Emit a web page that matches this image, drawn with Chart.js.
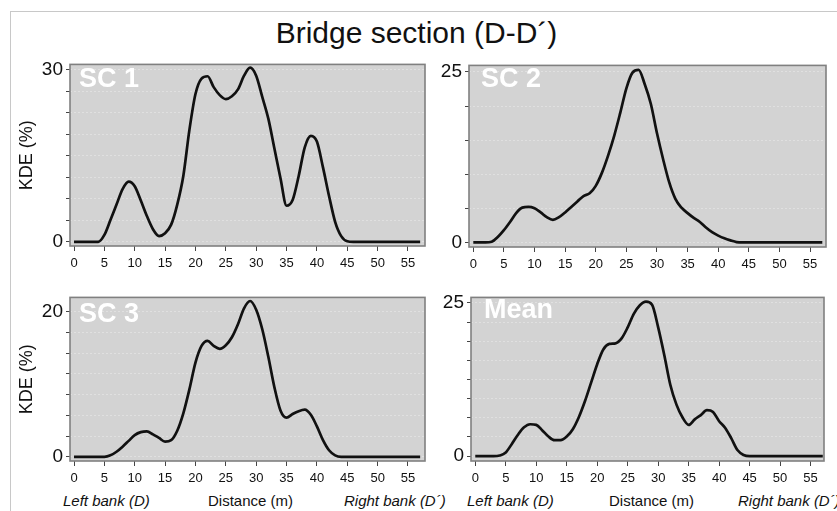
<!DOCTYPE html>
<html>
<head>
<meta charset="utf-8">
<script src="https://cdn.jsdelivr.net/npm/chart.js@4.4.0/dist/chart.umd.min.js"></script>
<style>
  body { margin: 0; width: 837px; height: 511px; overflow: hidden; background: #fff; position: relative;
         font-family: "Liberation Sans", Arial, sans-serif; color: #111; }
  #moldura { position: absolute; left: 10px; top: 11px; width: 900px; height: 600px; border: 1px solid #c8c8c8; }
  #titulo { position: absolute; left: 0; width: 833px; top: 18px; text-align: center; font-size: 30px; line-height: 30px; }
  canvas { position: absolute; }
  .rotulo { position: absolute; color: #fff; font-weight: bold; font-size: 27px; line-height: 27px; }
  .margem { position: absolute; top: 493px; font-size: 15px; line-height: 15px; white-space: nowrap; }
  .margem.it { font-style: italic; }
</style>
</head>
<body>
<div id="moldura"></div>
<div id="titulo">Bridge section (D-D´)</div>

<canvas id="sc1"></canvas>
<canvas id="sc2"></canvas>
<canvas id="sc3"></canvas>
<canvas id="media"></canvas>

<div class="rotulo" style="left:79px; top:65px">SC 1</div>
<div class="rotulo" style="left:481px; top:65px">SC 2</div>
<div class="rotulo" style="left:79px; top:300px">SC 3</div>
<div class="rotulo" style="left:484px; top:296px">Mean</div>

<div class="margem it" style="left:63px">Left bank (D)</div>
<div class="margem" style="left:208px">Distance (m)</div>
<div class="margem it" style="left:344px">Right bank (D´)</div>
<div class="margem it" style="left:467px">Left bank (D)</div>
<div class="margem" style="left:609px">Distance (m)</div>
<div class="margem it" style="left:738px">Right bank (D´)</div>

<script>
// --=| Dados (distância em m, KDE em %)
const distancia = [0, 1, 2, 3, 4, 5, 6, 7, 8, 9, 10, 11, 12, 13, 14, 15, 16, 17, 18, 19,
  20, 21, 22, 23, 24, 25, 26, 27, 28, 29, 30, 31, 32, 33, 34, 35, 36, 37, 38, 39,
  40, 41, 42, 43, 44, 45, 46, 47, 48, 49, 50, 51, 52, 53, 54, 55, 56, 57];

const sc1 = [0, 0, 0, 0, 0, 1.2, 3.8, 6.5, 9.2, 10.5, 9.7, 7.2, 4.5, 2.2, 1.0, 1.5, 3.0, 6.5, 11.5, 19.5,
  25.8, 28.5, 28.9, 27.0, 25.6, 24.9, 25.4, 26.6, 29.0, 30.4, 29.0, 25.3, 21.5, 16.3, 11.1, 6.3, 7.3, 11.5, 16.5, 18.5,
  17.5, 13.0, 8.0, 3.5, 1.0, 0.1, 0, 0, 0, 0, 0, 0, 0, 0, 0, 0, 0, 0];

const sc2 = [0, 0, 0, 0.1, 0.8, 1.8, 3.0, 4.3, 5.1, 5.2, 5.0, 4.4, 3.7, 3.3, 3.7, 4.4, 5.2, 6.0, 6.8, 7.2,
  8.3, 10.2, 12.7, 15.6, 19.0, 22.6, 24.9, 25.3, 23.2, 20.3, 16.0, 12.2, 8.8, 6.4, 5.1, 4.3, 3.6, 3.0, 2.2, 1.5,
  1.0, 0.6, 0.3, 0.05, 0, 0, 0, 0, 0, 0, 0, 0, 0, 0, 0, 0, 0, 0];

const sc3 = [0, 0, 0, 0, 0, 0, 0.2, 0.7, 1.4, 2.2, 3.0, 3.4, 3.5, 3.1, 2.6, 2.1, 2.3, 3.6, 6.0, 9.3,
  13.0, 15.3, 16.0, 15.3, 14.9, 15.4, 16.5, 18.3, 20.5, 21.5, 20.3, 17.6, 13.8, 9.6, 6.4, 5.4, 5.9, 6.3, 6.5, 5.8,
  4.2, 2.3, 0.9, 0.2, 0, 0, 0, 0, 0, 0, 0, 0, 0, 0, 0, 0, 0, 0];

const media = [0, 0, 0, 0, 0.1, 0.6, 2.0, 3.5, 4.7, 5.2, 5.1, 4.2, 3.2, 2.6, 2.6, 3.2, 4.4, 6.4, 9.0, 12.0,
  15.0, 17.4, 18.3, 18.4, 19.2, 21.0, 23.2, 24.6, 25.2, 24.7, 21.0, 16.5, 11.6, 8.4, 6.3, 5.1, 6.0, 6.7, 7.5, 7.2,
  5.7, 4.6, 2.9, 1.0, 0.2, 0, 0, 0, 0, 0, 0, 0, 0, 0, 0, 0, 0, 0];

const xTicks = [0, 5, 10, 15, 20, 25, 30, 35, 40, 45, 50, 55];
const yTopo = [30, 25, 20, 25];      // único rótulo além do 0
const yDivisoes = [8, 5, 7, 8];      // marcas menores entre 0 e o topo

// caixa do gráfico: esquerda, topo, direita, base (px)
const paineis = [
  { id: "sc1", dados: sc1, caixa: [70, 60, 425, 246], x: [-0.66, 57.8], y: [-0.73, 30.97], kde: true },
  { id: "sc2", dados: sc2, caixa: [469, 61, 826, 247], x: [-0.7, 57.6], y: [-0.67, 25.96], kde: false },
  { id: "sc3", dados: sc3, caixa: [70, 293, 425, 461], x: [-0.66, 57.8], y: [-0.58, 22.0], kde: true },
  { id: "media", dados: media, caixa: [471, 293, 824, 461], x: [-0.7, 57.2], y: [-0.79, 25.89], kde: false },
];

const EIXO_Y = 60, EIXO_X = 30, PAD_TOPO = 10, PAD_DIR = 5;

const caixaPlugin = {
  id: "caixa",
  beforeDraw(chart) {
    const { ctx, chartArea: a } = chart;
    ctx.save();
    ctx.fillStyle = "#d3d3d3";
    ctx.fillRect(a.left, a.top, a.right - a.left, a.bottom - a.top);
    ctx.restore();
  },
  afterDraw(chart) {
    const { ctx, chartArea: a } = chart;
    ctx.save();
    ctx.strokeStyle = "#808080";
    ctx.lineWidth = 1.6;
    ctx.strokeRect(a.left, a.top, a.right - a.left, a.bottom - a.top);
    ctx.restore();
  },
};

paineis.forEach((p, i) => {
  const [l, t, r, b] = p.caixa;
  const canvas = document.getElementById(p.id);
  canvas.width = r - l + EIXO_Y + PAD_DIR;
  canvas.height = b - t + PAD_TOPO + EIXO_X;
  canvas.style.left = (l - EIXO_Y) + "px";
  canvas.style.top = (t - PAD_TOPO) + "px";

  const topo = yTopo[i];
  const passo = topo / yDivisoes[i];

  new Chart(canvas, {
    type: "line",
    data: {
      datasets: [
        {
          data: distancia.map((d, k) => ({ x: d, y: p.dados[k] })),
          borderColor: "#111",
          borderWidth: 2.7,
          pointRadius: 0,
          cubicInterpolationMode: "monotone",
          fill: false,
        },
      ],
    },
    plugins: [caixaPlugin],
    options: {
      responsive: false,
      animation: false,
      devicePixelRatio: 1,
      layout: { padding: { top: PAD_TOPO, right: PAD_DIR, left: 0, bottom: 0 } },
      scales: {
        x: {
          type: "linear",
          min: p.x[0],
          max: p.x[1],
          afterBuildTicks: (s) => { s.ticks = xTicks.map((v) => ({ value: v })); },
          afterFit: (s) => { s.height = EIXO_X; },
          border: { display: false },
          grid: { drawOnChartArea: false, tickLength: 5, tickColor: "#444", tickWidth: 1 },
          ticks: { color: "#111", font: { family: "Liberation Sans", size: 13 }, padding: 5, maxRotation: 0, autoSkip: false },
        },
        y: {
          min: p.y[0],
          max: p.y[1],
          afterBuildTicks: (s) => {
            const lista = [];
            for (let k = 0; k <= yDivisoes[i]; k++) lista.push({ value: k * passo });
            s.ticks = lista;
          },
          afterFit: (s) => { s.width = EIXO_Y; },
          border: { display: false, dash: [2, 2] },
          grid: { color: "#e0e0e0", lineWidth: 1, tickLength: 4, tickColor: "#444", tickWidth: 1 },
          ticks: {
            color: "#111",
            font: { family: "Liberation Sans", size: 19 },
            padding: 3,
            autoSkip: false,
            callback: (v) => (Math.abs(v) < 1e-6 ? "0" : Math.abs(v - topo) < 1e-6 ? String(topo) : ""),
          },
          title: {
            display: p.kde,
            text: "KDE (%)",
            color: "#111",
            font: { family: "Liberation Sans", size: 18 },
            padding: { top: 6, bottom: 0 },
          },
        },
      },
      plugins: {
        legend: { display: false },
        tooltip: { enabled: false },
      },
    },
  });
});
</script>
</body>
</html>
